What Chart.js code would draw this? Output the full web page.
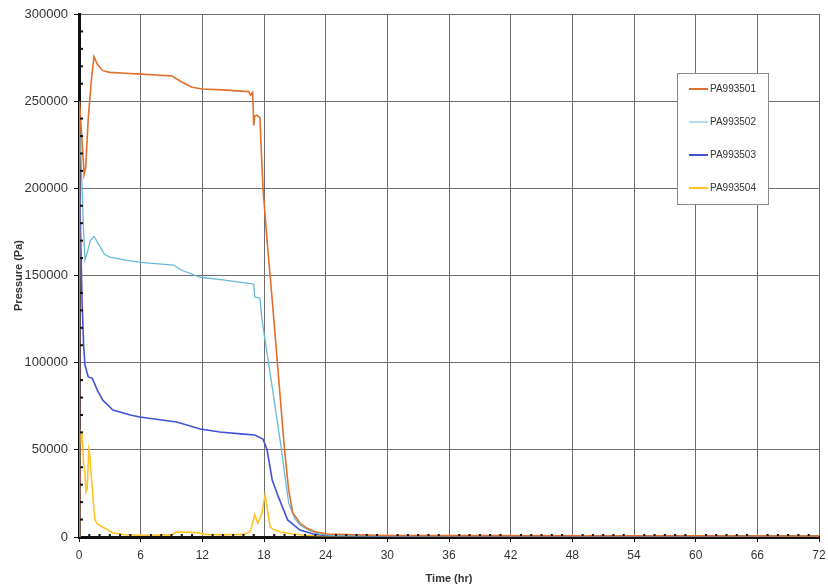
<!DOCTYPE html>
<html>
<head>
<meta charset="utf-8">
<script src="https://cdn.jsdelivr.net/npm/chart.js@4/dist/chart.umd.min.js"></script>
<style>
  html, body { margin: 0; padding: 0; background: #fff; }
  #wrap { width: 828px; height: 586px; }
</style>
</head>
<body>
<div id="wrap"><canvas id="chart" width="828" height="586"></canvas></div>
<script>
const seriesNames = ['PA993501', 'PA993502', 'PA993503', 'PA993504']
const seriesColors = ['#e0702c', '#66b8d8', '#3f52d8', '#ffc325']

// time (hr) / pressure (Pa)
const time1 = [0, 0.05, 0.2, 0.35, 0.5, 0.65, 0.9, 1.2, 1.46, 1.8, 2.3, 3, 4.5, 6, 7.5, 9, 10, 11, 12, 14, 16.5, 16.7, 16.9, 17.0, 17.1, 17.3, 17.6, 17.9, 18.3, 18.8, 19.3, 20.0, 20.4, 20.8, 21.5, 22.2, 23, 24.1, 30, 40, 50, 60, 72]
const pres1 = [0, 250000, 236000, 222000, 208000, 212000, 240000, 262000, 275500, 271000, 267500, 266500, 266000, 265500, 265000, 264500, 261000, 258000, 257000, 256500, 255500, 253500, 255000, 236000, 241500, 242000, 240500, 200000, 170000, 136000, 100000, 50000, 27000, 13800, 8000, 5000, 3000, 1700, 900, 800, 700, 700, 600]

const time2 = [0, 0.05, 0.15, 0.3, 0.45, 0.58, 0.8, 1.1, 1.46, 1.9, 2.5, 3, 4.8, 6, 9.2, 10, 11.8, 14, 16.5, 17.0, 17.1, 17.6, 17.8, 18.1, 18.8, 19.6, 20.4, 21.0, 21.5, 22.4, 23.4, 24.5, 30, 45, 60, 72]
const pres2 = [0, 240000, 225000, 200000, 175000, 159000, 163000, 170000, 172500, 168000, 162000, 160500, 158500, 157500, 156000, 153000, 149000, 147500, 145500, 145000, 137700, 137000, 125000, 113000, 86000, 54000, 19500, 10500, 6900, 3800, 1700, 900, 700, 600, 600, 500]

const time3 = [0, 0.05, 0.15, 0.3, 0.45, 0.58, 0.9, 1.3, 1.8, 2.3, 3.3, 5.0, 5.9, 9.5, 11.8, 13.7, 16.0, 17.1, 17.9, 18.3, 18.8, 19.4, 20.3, 21.5, 22.8, 24, 30, 45, 60, 72]
const pres3 = [0, 215000, 175000, 135000, 110000, 98700, 91800, 91000, 84000, 78600, 72800, 70000, 68800, 66000, 61900, 60200, 59000, 58500, 56200, 50000, 32700, 23000, 9800, 4000, 1700, 900, 600, 500, 500, 400]

const time4 = [0, 0.05, 0.2, 0.3, 0.45, 0.58, 0.68, 0.8, 0.95, 1.05, 1.2, 1.4, 1.55, 1.8, 2.3, 3.3, 4.5, 6, 9, 9.5, 11.5, 12.2, 14, 16.0, 16.6, 16.8, 17.1, 17.4, 17.8, 18.1, 18.3, 18.6, 19.0, 19.6, 20.8, 22, 24, 30, 45, 60, 72]
const pres4 = [0, 62000, 55000, 59600, 42000, 36700, 26000, 28000, 50000, 47000, 35000, 19500, 9800, 7500, 5700, 2300, 1300, 1000, 1200, 2900, 2500, 1500, 1200, 1500, 2900, 6000, 12600, 8000, 13800, 24000, 17000, 5700, 4000, 2900, 1700, 1000, 800, 700, 600, 600, 500]

const xTicks = [0, 6, 12, 18, 24, 30, 36, 42, 48, 54, 60, 66, 72]
const yTicks = [0, 50000, 100000, 150000, 200000, 250000, 300000]

const toPoints = (xs, ys) => xs.map((x, i) => ({ x, y: ys[i] }))
const allTimes = [time1, time2, time3, time4]
const allPres = [pres1, pres2, pres3, pres4]

// little dots on the axes every hour / every 10000 Pa, plus the boxed legend
const extrasPlugin = {
  id: 'extras',
  afterDraw(chart) {
    const { ctx, chartArea, scales } = chart
    ctx.save()
    ctx.fillStyle = '#111'
    for (let h = 1; h < 72; h++) {
      if (h % 6 === 0) continue
      const px = scales.x.getPixelForValue(h)
      ctx.fillRect(px - 1, chartArea.bottom - 3, 2, 2)
    }
    for (let v = 10000; v < 300000; v += 10000) {
      if (v % 50000 === 0) continue
      const py = scales.y.getPixelForValue(v)
      ctx.fillRect(chartArea.left + 1, py - 1, 3, 2)
    }

    const bx = chartArea.right - 142
    const by = chartArea.top + 59
    ctx.fillStyle = '#fff'
    ctx.fillRect(bx, by, 91, 131)
    ctx.strokeStyle = '#8a8a8a'
    ctx.lineWidth = 1
    ctx.strokeRect(bx + 0.5, by + 0.5, 91, 131)
    ctx.font = '10px "Liberation Sans", Arial, sans-serif'
    ctx.textBaseline = 'middle'
    seriesNames.forEach((name, i) => {
      const y = by + 16 + i * 33
      ctx.strokeStyle = seriesColors[i]
      ctx.lineWidth = i === 1 ? 1 : 2
      ctx.beginPath()
      ctx.moveTo(bx + 12, y)
      ctx.lineTo(bx + 31, y)
      ctx.stroke()
      ctx.fillStyle = '#333'
      ctx.fillText(name, bx + 33, y)
    })
    ctx.restore()
  }
}

new Chart(document.getElementById('chart'), {
  type: 'line',
  data: {
    datasets: seriesNames.map((name, i) => ({
      label: name,
      data: toPoints(allTimes[i], allPres[i]),
      borderColor: seriesColors[i],
      borderWidth: i === 1 ? 1.3 : 1.6,
      pointRadius: 0,
      tension: 0,
      fill: false
    }))
  },
  options: {
    responsive: false,
    animation: false,
    layout: { padding: { top: 14, right: 9, left: 0, bottom: 0 } },
    scales: {
      x: {
        type: 'linear',
        min: 0,
        max: 72,
        afterBuildTicks: scale => { scale.ticks = xTicks.map(value => ({ value })) },
        afterFit: scale => {
          scale.height = 49
          scale.paddingRight = 0
          scale.paddingLeft = 0
        },
        ticks: {
          color: '#333',
          font: { family: '"Liberation Sans", Arial, sans-serif', size: 12 },
          padding: 6,
          maxRotation: 0
        },
        grid: { color: '#6e6e6e', lineWidth: 1, tickLength: 5, tickColor: '#111' },
        border: { color: '#111', width: 3 },
        title: {
          display: true,
          text: 'Time (hr)',
          color: '#333',
          font: { family: '"Liberation Sans", Arial, sans-serif', size: 11, weight: 'bold' },
          padding: { top: 0, bottom: 0 }
        }
      },
      y: {
        type: 'linear',
        min: 0,
        max: 300000,
        afterBuildTicks: scale => { scale.ticks = yTicks.map(value => ({ value })) },
        afterFit: scale => { scale.width = 79 },
        ticks: {
          color: '#333',
          font: { family: '"Liberation Sans", Arial, sans-serif', size: 13 },
          padding: 6,
          callback: value => String(value)
        },
        grid: { color: '#6e6e6e', lineWidth: 1, tickLength: 5, tickColor: '#111' },
        border: { color: '#111', width: 3 },
        title: {
          display: true,
          text: 'Pressure (Pa)',
          color: '#333',
          font: { family: '"Liberation Sans", Arial, sans-serif', size: 11, weight: 'bold' },
          padding: { top: 12, bottom: 0 }
        }
      }
    },
    plugins: {
      legend: { display: false },
      tooltip: { enabled: false }
    }
  },
  plugins: [extrasPlugin]
})
</script>
</body>
</html>
